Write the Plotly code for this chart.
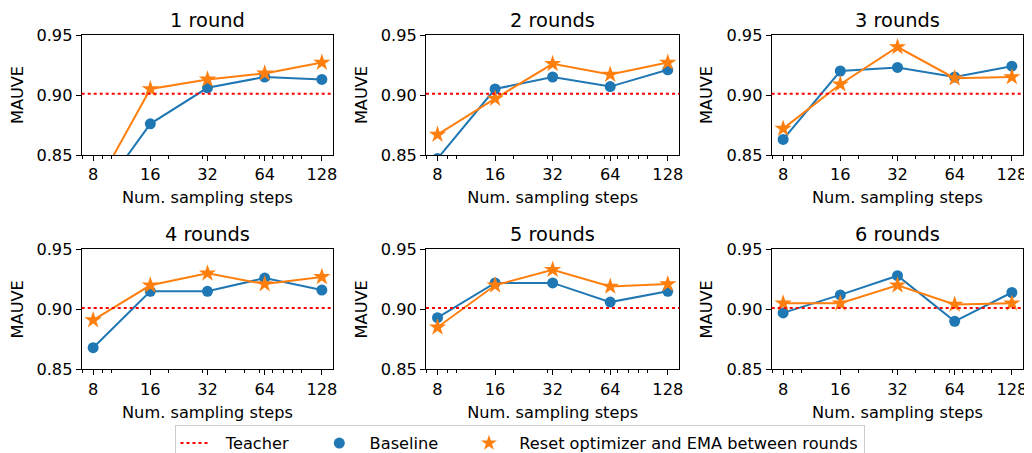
import plotly.graph_objects as go
import math

steps = [8, 16, 32, 64, 128]
step_labels = ["8", "16", "32", "64", "128"]
teacher = 0.901
titles = ["1 round", "2 rounds", "3 rounds", "4 rounds", "5 rounds", "6 rounds"]

baseline_r1 = [0.810, 0.876, 0.906, 0.915, 0.913]
reset_r1 = [0.819, 0.905, 0.913, 0.918, 0.927]
baseline_r2 = [0.847, 0.905, 0.915, 0.907, 0.921]
reset_r2 = [0.867, 0.897, 0.926, 0.917, 0.927]
baseline_r3 = [0.863, 0.920, 0.923, 0.915, 0.924]
reset_r3 = [0.872, 0.909, 0.940, 0.914, 0.915]
baseline_r4 = [0.868, 0.915, 0.915, 0.926, 0.916]
reset_r4 = [0.891, 0.920, 0.930, 0.921, 0.927]
baseline_r5 = [0.893, 0.922, 0.922, 0.906, 0.915]
reset_r5 = [0.885, 0.920, 0.933, 0.919, 0.921]
baseline_r6 = [0.897, 0.912, 0.928, 0.890, 0.914]
reset_r6 = [0.905, 0.905, 0.920, 0.904, 0.905]

baselines = [baseline_r1, baseline_r2, baseline_r3, baseline_r4, baseline_r5, baseline_r6]
resets = [reset_r1, reset_r2, reset_r3, reset_r4, reset_r5, reset_r6]

legend_names = ["Teacher", "Baseline", "Reset optimizer and EMA between rounds"]

BLUE = "#1f77b4"
ORANGE = "#ff7f0e"
RED = "#ff0000"
FONT = "DejaVu Sans"
FS = 16.2
TFS = 19.4

# page body has an 8px default margin; figure fills the rest of the 1032x453 window
OFF = 8
W, H = 1032 - OFF, 453 - OFF

def px_x(x):
    return (x - OFF) / W

def px_y(y):
    return 1 - (y - OFF) / H

xdom_px = [(81.7, 333.3), (426.0, 679.3), (771.7, 1023.3)]
ydom_px = [(35.0, 155.0), (249.3, 369.3)]

minor_vals = [7, 9, 10, 20, 30, 40, 50, 60, 70, 80, 90, 100]
l2 = math.log10(2)
xrange = [math.log10(8) - 0.2 * l2, math.log10(128) + 0.2 * l2]

fig = go.Figure()
layout = dict(
    width=W, height=H,
    margin=dict(l=0, r=0, t=0, b=0, autoexpand=False),
    paper_bgcolor="white", plot_bgcolor="white",
    font=dict(family=FONT, size=FS, color="black"),
    showlegend=True,
)
annotations = []
shapes = []

for i in range(6):
    r, c = divmod(i, 3)
    n = i + 1
    xa = "x" if n == 1 else f"x{n}"
    ya = "y" if n == 1 else f"y{n}"
    xd = [px_x(xdom_px[c][0]), px_x(xdom_px[c][1])]
    yd = [px_y(ydom_px[r][1]), px_y(ydom_px[r][0])]
    layout["xaxis" if n == 1 else f"xaxis{n}"] = dict(
        domain=xd, anchor=ya, type="log", range=xrange, automargin=False,
        tickmode="array", tickvals=steps, ticktext=step_labels,
        ticks="outside", ticklen=5, tickwidth=1, tickcolor="black",
        minor=dict(tickmode="array", tickvals=minor_vals, ticks="outside",
                   ticklen=3, tickwidth=0.8, tickcolor="black"),
        showline=True, linecolor="black", linewidth=1, mirror=True,
        showgrid=False, zeroline=False,
        title=dict(text="Num. sampling steps", standoff=8,
                   font=dict(family=FONT, size=FS)),
        tickfont=dict(family=FONT, size=FS),
    )
    layout["yaxis" if n == 1 else f"yaxis{n}"] = dict(
        domain=yd, anchor=xa, range=[0.85, 0.95], automargin=False,
        tickmode="array", tickvals=[0.85, 0.90, 0.95], ticktext=["0.85", "0.90", "0.95"],
        ticks="outside", ticklen=5, tickwidth=1, tickcolor="black",
        showline=True, linecolor="black", linewidth=1, mirror=True,
        showgrid=False, zeroline=False,
        title=dict(text="MAUVE", standoff=9, font=dict(family=FONT, size=FS)),
        tickfont=dict(family=FONT, size=FS),
    )
    fig.add_trace(go.Scatter(
        x=steps, y=baselines[i], mode="lines+markers", xaxis=xa, yaxis=ya,
        line=dict(color=BLUE, width=2), marker=dict(symbol="circle", size=11, color=BLUE),
        showlegend=False, cliponaxis=True,
    ))
    fig.add_trace(go.Scatter(
        x=steps, y=resets[i], mode="lines+markers", xaxis=xa, yaxis=ya,
        line=dict(color=ORANGE, width=2), marker=dict(symbol="star", size=13, color=ORANGE),
        showlegend=False, cliponaxis=True,
    ))
    shapes.append(dict(
        type="line", xref=f"{xa} domain", yref=ya, x0=0, x1=1, y0=teacher, y1=teacher,
        line=dict(color=RED, width=2, dash="dot"), layer="above",
    ))
    annotations.append(dict(
        text=titles[i], xref="paper", yref="paper",
        x=(xd[0] + xd[1]) / 2, y=yd[1], yshift=1,
        xanchor="center", yanchor="bottom", showarrow=False,
        font=dict(family=FONT, size=TFS, color="black"),
    ))

NB = "\u00a0"
# legend entries
fig.add_trace(go.Scatter(x=[None], y=[None], mode="lines",
                         name=NB * 2 + legend_names[0] + NB * 5,
                         line=dict(color=RED, width=2, dash="dot")))
fig.add_trace(go.Scatter(x=[None], y=[None], mode="markers",
                         name=NB * 2 + legend_names[1] + NB * 5,
                         marker=dict(symbol="circle", size=11, color=BLUE)))
fig.add_trace(go.Scatter(x=[None], y=[None], mode="markers",
                         name=NB * 2 + legend_names[2],
                         marker=dict(symbol="star", size=12, color=ORANGE)))

layout["annotations"] = annotations
layout["shapes"] = shapes
layout["legend"] = dict(
    orientation="h", x=px_x(519.5), xanchor="center", y=px_y(425), yanchor="top",
    bordercolor="#cccccc", borderwidth=1, bgcolor="white",
    font=dict(family=FONT, size=FS), itemwidth=30,
)
fig.update_layout(**layout)
fig.write_html("out.html")
